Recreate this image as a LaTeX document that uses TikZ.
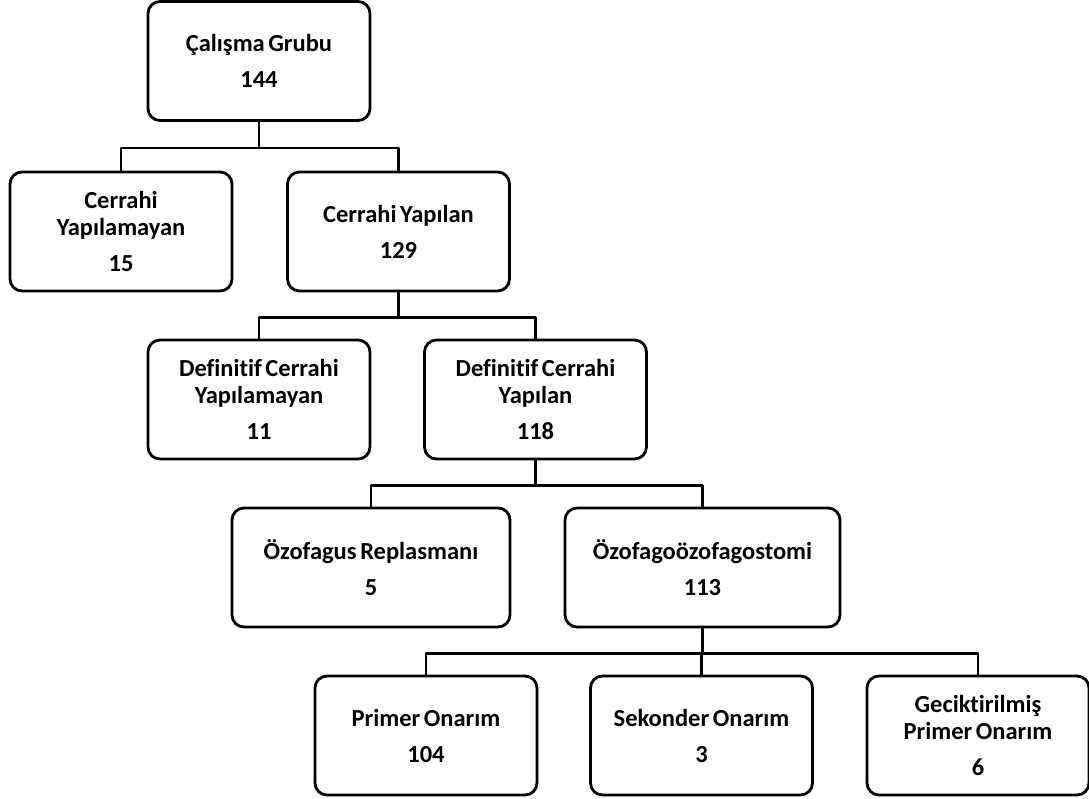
\documentclass[tikz,border=0pt]{standalone}
\usepackage{fontspec}
\setmainfont[RawFeature=-liga,WordSpace=0.65]{Carlito}
\usepackage{tikz}

\begin{document}
\begin{tikzpicture}[x=1pt,y=-1pt,line join=round,
    box/.style={draw,line width=2.8pt,rounded corners=12pt,minimum width=222pt,
      minimum height=119pt,inner sep=0pt,align=center,
      font=\bfseries\fontsize{24.5}{27}\selectfont},
    link/.style={line width=2.8pt}]
      \useasboundingbox (0,0) rectangle (1089,798);
      \node[box] (grup)    at (259,61)      {Çalışma Grubu\\[9pt]144};
      \node[box] (ceryok)  at (121,231.5)   {Cerrahi\\Yapılamayan\\[9pt]15};
      \node[box] (cervar)  at (398.5,231.5) {Cerrahi Yapılan\\[9pt]129};
      \node[box] (defyok)  at (259,399.5)   {Definitif Cerrahi\\Yapılamayan\\[9pt]11};
      \node[box] (defvar)  at (535.5,399.5) {Definitif Cerrahi\\Yapılan\\[9pt]118};
      \node[box,minimum width=278pt] (replas) at (371,567.5)   {Özofagus Replasmanı\\[9pt]5};
      \node[box,minimum width=275pt] (ostomi) at (702.5,567.5) {Özofagoözofagostomi\\[9pt]113};
      \node[box] (primer)  at (426,735.5)   {Primer Onarım\\[9pt]104};
      \node[box] (sekond)  at (701.5,735.5) {Sekonder Onarım\\[9pt]3};
      \node[box] (gecik)   at (978,735.5)   {Geciktirilmiş\\Primer Onarım\\[9pt]6};
      % baglantilar
      \draw[link] (grup.south) -- ++(0,26) -| (ceryok.north);
      \draw[link] (grup.south) -- ++(0,26) -| (cervar.north);
      \draw[link] (cervar.south) -- ++(0,25) -| (defyok.north);
      \draw[link] (cervar.south) -- ++(0,25) -| (defvar.north);
      \draw[link] (defvar.south) -- ++(0,25) -| (replas.north);
      \draw[link] (defvar.south) -- ++(0,25) -| (ostomi.north);
      \draw[link] (ostomi.south) -- ++(0,25) -| (primer.north);
      \draw[link] (ostomi.south) -- ++(0,25) -| (sekond.north);
      \draw[link] (ostomi.south) -- ++(0,25) -| (gecik.north);
\end{tikzpicture}
\end{document}
